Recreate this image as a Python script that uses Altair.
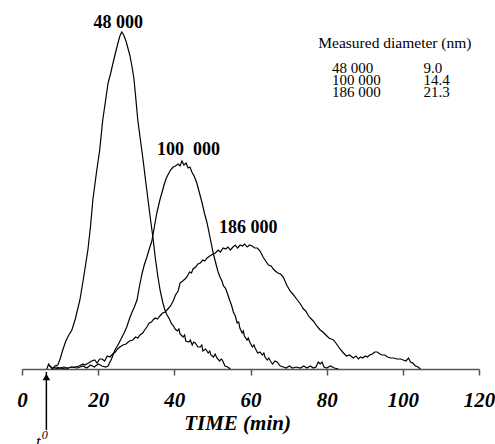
import altair as alt
import pandas as pd

# ---- data (time in min, detector signal in arbitrary units) ----
s48 = [(6.5,0),(7.0,5),(7.5,2),(8.0,0),(8.6,3),(9.4,4),(10.0,10),(10.7,19),(11.5,28),(12.3,34),
       (13.1,39),(14.0,50),(15.2,69),(16.2,92),(17.3,119),(18.0,143),(18.6,169),(19.5,195),(20.4,219),
       (21.2,249),(22.0,270),(22.6,286),(23.3,296),(23.9,306),(24.6,317),(25.2,326),(25.7,333),(26.2,337),
       (26.7,334),(27.3,328),(27.8,321),(28.3,314),(28.9,302),(29.4,290),(29.9,270),(30.4,249),(31.1,229),
       (31.8,209),(32.4,190),(33.1,169),(33.8,148),(34.4,131),(35.0,111),(35.7,92),(36.3,78),(37.0,66),
       (37.6,58),(38.1,54),(38.7,50),(39.3,45),(39.8,43),(40.2,40),(40.8,38),(41.2,40),(41.5,35),(42.3,32),
       (42.7,34),(43.0,28),(43.8,27),(44.2,29),(44.7,24),(45.1,27),(45.5,26),(46.2,22),(46.8,22),(47.2,24),
       (47.5,18),(48.2,20),(48.9,16),(49.3,18),(49.6,14),(50.3,12),(50.7,15),(51.2,11),(51.9,8),(52.3,10),
       (52.6,9),(53.3,3),(54.0,2),(54.7,0)]

s100 = [(8.5,0),(10,1),(11.5,0),(13,2),(14.5,1),(16,3),(17,1),(18,4),(19,2),(20,5),(21,3),(22,2),(22.6,3),
        (23.5,10),(24.4,19),(25.2,24),(26.0,30),(26.8,36),(27.5,42),(28.2,50),(28.8,56),(29.5,62),(30.2,69),
        (30.8,82),(31.5,95),(32.1,104),(32.8,112),(33.5,121),(34.1,128),(34.8,143),(35.4,156),(36.2,169),
        (36.8,177),(37.3,184),(37.8,190),(38.3,194),(39.0,199),(39.7,202),(40.3,203),(41.0,205),(41.5,203),
        (42.0,208),(42.5,204),(43.1,206),(43.6,201),(44.1,202),(44.6,197),(45.2,193),(45.9,186),(46.6,176),
        (47.3,166),(47.9,156),(48.6,146),(49.4,131),(50.2,116),(51.0,104),(51.5,97),(52.0,92),(52.5,88),
        (52.9,83),(53.4,81),(53.9,76),(54.6,68),(55.0,64),(55.5,57),(56.0,53),(56.5,46),(56.9,47),(57.2,41),
        (57.8,36),(58.1,38),(58.4,33),(59.1,29),(59.4,31),(59.8,27),(60.5,22),(60.9,24),(61.2,21),(61.9,16),
        (62.5,17),(63.1,14),(63.5,16),(63.8,12),(64.4,9),(64.8,11),(65.2,8),(65.8,5),(66.4,8),(67.0,7),
        (67.8,3),(68.6,2),(69.4,1),(70.2,3),(71,1),(72,2),(73.1,1),(74,3),(74.8,1),(75.7,3),(76.5,1),(77.2,2),
        (77.8,7),(78.3,5),(78.8,7),(79.3,2),(80,1),(81,3),(82,1),(83.1,0)]

s186 = [(6.8,4),(7.3,3),(8.0,1),(9.0,2),(9.9,1),(11,2),(12,1),(13,2),(13.9,2),(15,3),(16,5),(16.5,4),
        (17.5,6),(18.3,8),(19.1,9),(19.7,6),(20.4,10),(21.0,10),(21.7,8),(22.4,13),(23.1,12),(23.8,15),
        (24.5,17),(25.1,20),(25.7,22),(26.5,24),(27.3,25),(28.2,28),(29.1,29),(29.8,32),(30.4,31),(31.0,34),
        (31.7,36),(32.2,39),(32.8,42),(33.4,46),(34.0,47),(34.4,49),(35.0,51),(35.6,50),(36.2,53),(36.9,56),
        (37.6,57),(38.3,60),(39.0,63),(39.7,68),(40.3,74),(41.0,78),(41.5,86),(42.2,88),(42.8,90),(43.3,92),
        (44.0,97),(44.5,96),(44.9,100),(45.6,102),(46.2,105),(46.8,106),(47.5,109),(48.0,108),(48.6,111),
        (49.3,113),(50.2,115),(50.8,116),(51.5,119),(52.1,117),(52.8,121),(53.5,120),(54.1,122),(54.7,119),
        (55.4,122),(56.0,124),(56.6,121),(57.3,124),(57.9,123),(58.5,125),(59.1,122),(59.8,124),(60.4,123),
        (61.1,121),(61.8,121),(62.5,118),(63.3,112),(64.0,108),(64.7,104),(65.4,103),(66.0,100),(66.5,98),
        (67.2,96),(67.9,95),(68.6,92),(69.5,84),(70.4,78),(71.3,74),(72.3,69),(73.1,65),(73.9,60),(74.5,58),
        (75.1,54),(75.7,51),(76.5,48),(77.4,43),(78.3,39),(79.0,37),(79.8,34),(80.6,31),(81.2,30),(81.8,29),
        (82.6,25),(83.5,20),(84.4,16),(85.2,13),(86.0,14),(87.0,11),(87.7,13),(88.3,10),(88.9,12),(89.5,11),
        (90.1,13),(90.7,12),(91.3,14),(92.0,15),(92.6,17),(93.3,17),(94.0,15),(94.6,14),(95.3,14),(96.0,12),
        (96.8,11),(97.6,11),(98.4,10),(99.4,10),(100.1,9),(100.8,8),(101.5,11),(102.0,7),(102.6,6),(103.3,3),
        (104.0,2),(104.6,0)]

peak_labels = ["48 000", "100\u00a0\u00a0000", "186 000"]
peak_t = [25.3, 43.7, 59.4]
peak_h = [341, 214, 136]

legend_title = "Measured diameter (nm)"
legend_mw = ["48 000", "100 000", "186 000"]
legend_diam = ["9.0", "14.4", "21.3"]
legend_h = [296, 284, 272]

t0 = 6.4
x_ticks = list(range(0, 121, 10))

SERIF = "Liberation Serif, Times New Roman, serif"

rows = []
for name, s in (("48 000", s48), ("100 000", s100), ("186 000", s186)):
    for t, h in s:
        rows.append({"series": name, "t": t, "h": h})
df = pd.DataFrame(rows)

xscale = alt.Scale(domain=[0, 120], nice=False, zero=False)
yscale = alt.Scale(domain=[0, 350], nice=False, zero=False)

xaxis = alt.Axis(
    values=x_ticks,
    labelExpr="datum.value % 20 == 0 ? datum.label : ''",
    grid=False, domainColor="#555", domainWidth=1.5, tickColor="#555", tickWidth=1.5,
    tickSize=6, labelPadding=14, labelFlush=False, labelOverlap=False,
    labelFont=SERIF, labelFontSize=21, labelFontWeight="bold", labelFontStyle="italic",
    labelColor="black",
    title="TIME (min)", titleFont=SERIF, titleFontSize=21, titleFontWeight="bold",
    titleFontStyle="italic", titleColor="black", titleX=215, titleY=60,
    titleBaseline="alphabetic",
)

lines = alt.Chart(df).mark_line(color="black", strokeWidth=1.2).encode(
    x=alt.X("t:Q", scale=xscale, axis=xaxis),
    y=alt.Y("h:Q", scale=yscale, axis=None),
    detail="series:N",
)

pk = pd.DataFrame({"label": peak_labels, "t": peak_t, "h": peak_h})
peaks = alt.Chart(pk).mark_text(font=SERIF, fontSize=18, fontWeight="bold", baseline="alphabetic",
                                align="center", color="black").encode(
    x=alt.X("t:Q", scale=xscale), y=alt.Y("h:Q", scale=yscale), text="label:N")

lt = pd.DataFrame({"label": [legend_title], "t": [77.8], "h": [321]})
ltitle = alt.Chart(lt).mark_text(font=SERIF, fontSize=15.5, baseline="alphabetic", align="left",
                                 color="black").encode(
    x=alt.X("t:Q", scale=xscale), y=alt.Y("h:Q", scale=yscale), text="label:N")

lr = pd.DataFrame({"mw": legend_mw, "d": legend_diam, "h": legend_h})
lcol1 = alt.Chart(lr).mark_text(font=SERIF, fontSize=15, baseline="alphabetic", align="left",
                                color="black").encode(
    x=alt.datum(81.4, scale=xscale), y=alt.Y("h:Q", scale=yscale), text="mw:N")
lcol2 = alt.Chart(lr).mark_text(font=SERIF, fontSize=15, baseline="alphabetic", align="left",
                                color="black").encode(
    x=alt.datum(105.4, scale=xscale), y=alt.Y("h:Q", scale=yscale), text="d:N")

ar = pd.DataFrame({"t": [t0], "top": [-3], "bottom": [-61], "head": [-8]})
arrow_line = alt.Chart(ar).mark_rule(color="black", strokeWidth=1.5).encode(
    x=alt.X("t:Q", scale=xscale), y=alt.Y("top:Q", scale=yscale), y2="bottom:Q")
arrow_head = alt.Chart(ar).mark_point(shape="triangle-up", filled=True, color="black", size=60,
                                      opacity=1).encode(
    x=alt.X("t:Q", scale=xscale), y=alt.Y("head:Q", scale=yscale))

tl = pd.DataFrame({"t": [t0 - 2.1], "h": [-78], "s": ["t"]})
t_lab = alt.Chart(tl).mark_text(font=SERIF, fontSize=17, fontStyle="italic", baseline="alphabetic",
                                align="center", color="black").encode(
    x=alt.X("t:Q", scale=xscale), y=alt.Y("h:Q", scale=yscale), text="s:N")
tl0 = pd.DataFrame({"t": [t0 - 0.4], "h": [-70], "s": ["0"]})
t0_lab = alt.Chart(tl0).mark_text(font=SERIF, fontSize=12, fontStyle="italic", baseline="alphabetic",
                                  align="center", color="black").encode(
    x=alt.X("t:Q", scale=xscale), y=alt.Y("h:Q", scale=yscale), text="s:N")

chart = alt.layer(lines, peaks, ltitle, lcol1, lcol2, arrow_line, arrow_head, t_lab, t0_lab).properties(
    width=457, height=350,
    padding={"left": 22, "top": 19, "right": 16, "bottom": 75},
    autosize="none",
    background="white",
).configure_view(stroke=None)

chart.save("out.html", embed_options={"renderer": "svg", "actions": False})
